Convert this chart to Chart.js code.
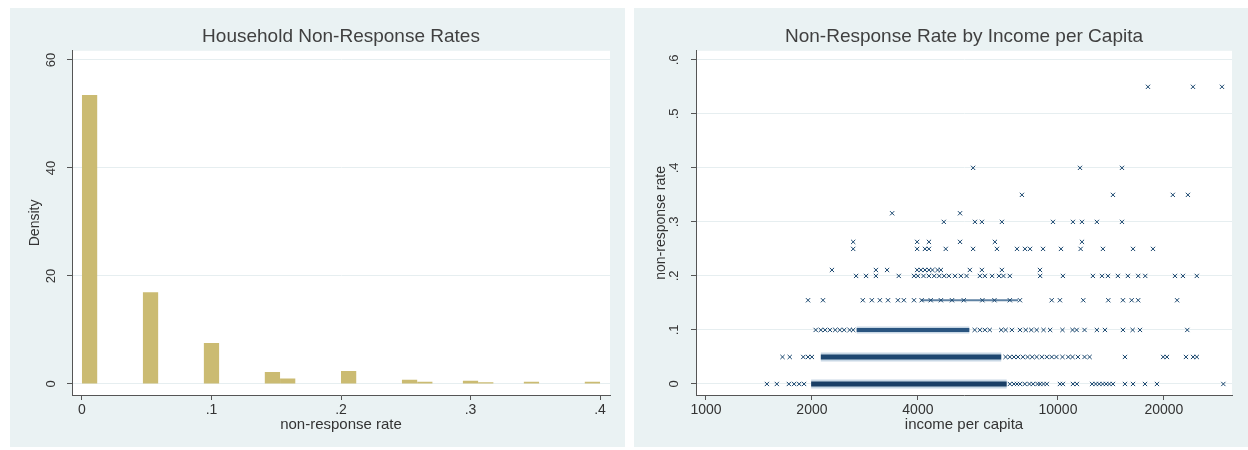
<!DOCTYPE html>
<html>
<head>
<meta charset="utf-8">
<script src="https://cdn.jsdelivr.net/npm/chart.js@4.4.1/dist/chart.umd.min.js"></script>
<style>
    html, body { margin: 0; padding: 0; background: #fff; }
    body { width: 1248px; height: 450px; position: relative; overflow: hidden; }
    .panel { position: absolute; top: 8px; height: 439px; background: #eaf2f3; }
    #left { left: 10px; width: 615px; }
    #right { left: 634px; width: 614px; }
</style>
</head>
<body>
<div class="panel" id="left"><canvas id="histChart" width="615" height="439"></canvas></div>
<div class="panel" id="right"><canvas id="scatterChart" width="614" height="439"></canvas></div>
<script>
// ===== Histogram data =====
const binWidth = 0.4 / 34;
const histDensity = [53.5, 0, 0, 0, 17.0, 0, 0, 0, 7.6, 0, 0, 0, 2.2, 1.0, 0, 0, 0, 2.4,
    0, 0, 0, 0.8, 0.4, 0, 0, 0.6, 0.3, 0, 0, 0.4, 0, 0, 0, 0.4];
const histXTicks = [0, 0.1, 0.2, 0.3, 0.4];
const histYTicks = [0, 20, 40, 60];

// ===== Scatter data (income per capita at each non-response rate) =====
const rateLevels = [0, 0.05, 0.1, 0.155, 0.2, 0.211, 0.25, 0.263, 0.3, 0.316, 0.35, 0.4, 0.55];
const inc000 = [1490, 1590, 1720, 1780, 1840, 1900, 7300, 7500, 7650, 7800, 8050, 8300, 8500, 8750,
    8900, 9100, 9300, 10130, 10330, 11030, 11320, 12500, 12800, 13100, 13400, 13700, 14000, 14330,
    15500, 16340, 17670, 19110, 29500];
const inc005 = [1650, 1730, 1890, 1950, 2000, 7100, 7300, 7500, 7700, 7950, 8200, 8450, 8700, 9000,
    9300, 9600, 9900, 10300, 10700, 11000, 11400, 11900, 12300, 15500, 19900, 20400, 23100, 24200, 24800];
const inc010 = [2050, 2120, 2180, 2250, 2330, 2400, 2470, 2560, 2620, 5800, 6000, 6200, 6400, 6900,
    7100, 7400, 7800, 8100, 8400, 8700, 9100, 9500, 10300, 11000, 11300, 11900, 12900, 13600, 15300,
    16300, 17100, 23300];
const inc015 = [1950, 2150, 2790, 2960, 3120, 3290, 3510, 3650, 3900, 4100, 4350, 4650, 5000, 5400,
    6100, 6600, 7300, 7800, 9600, 10130, 11800, 13900, 15300, 16200, 16900, 21800];
const inc020 = [2670, 2850, 3040, 3530, 3900, 4000, 4150, 4300, 4450, 4600, 4750, 4900, 5100, 5300,
    5500, 6000, 6200, 6500, 6800, 7000, 7300, 8900, 10330, 12570, 13340, 13870, 14800, 15800, 16900,
    17700, 21500, 22650, 24800];
const inc021 = [2280, 3040, 3270, 3980, 4080, 4190, 4300, 4400, 4550, 4650, 5620, 6080, 6930, 8890];
const inc025 = [2620, 3980, 4190, 4300, 4800, 5740, 6710, 7650, 8060, 8330, 9070, 10200, 11600,
    13420, 16340, 18620];
const inc026 = [2620, 3980, 4300, 5270, 6620, 11700];
const inc030 = [4740, 5810, 6080, 6930, 9680, 11030, 11700, 12900, 15200];
const inc032 = [3380, 5270];
const inc035 = [7900, 14330, 21200, 23400];
const inc040 = [5740, 11550, 15200];
const inc055 = [18020, 24190, 29240];
const incomeRows = [inc000, inc005, inc010, inc015, inc020, inc021, inc025, inc026,
    inc030, inc032, inc035, inc040, inc055];

// dense runs of overlapping markers
const denseRate = [0, 0.05, 0.1, 0.155];
const denseFrom = [1990, 2120, 2680, 4080];
const denseTo = [7150, 6900, 5600, 7700];
const scatterXTicks = [1000, 2000, 4000, 10000, 20000];
const scatterYTicks = [0, 0.1, 0.2, 0.3, 0.4, 0.5, 0.6];

// ===== Styles =====
const FONT = "'Liberation Sans', Arial, sans-serif";
const NAVY = '#1a476f';
const bandWidths = [5, 5, 4, 2];
const bandColors = ['#1a3f66', '#1d4670', '#2a5580', '#5f82a3'];
const haloWidths = [9, 9, 7, 0];
Chart.defaults.font.family = FONT;
Chart.defaults.color = '#333';

const plotBg = {
    id: 'plotBg',
    beforeDraw(chart) {
        const { ctx, chartArea: a } = chart;
        ctx.save();
        ctx.fillStyle = '#fff';
        ctx.fillRect(a.left, a.top, a.width, a.height);
        ctx.restore();
    }
};

function stataNum(v) {
    return v === 0 ? '0' : String(+v.toFixed(2)).replace(/^0\./, '.');
}

function titleOpts(text) {
    return {
        display: true, text, fullSize: false, color: '#404040',
        font: { size: 19, weight: 'normal' }, padding: { top: 17, bottom: 3 }
    };
}

function yAxis(min, max, ticks, label, titlePad, labelPad) {
    return {
        type: 'linear', min, max,
        afterBuildTicks: s => { s.ticks = ticks.map(v => ({ value: v })); },
        afterFit: s => { s.width = 62; },
        border: { display: true, color: '#555', width: 1 },
        grid: { color: '#e6eef0', lineWidth: 1, tickColor: '#555', tickLength: 5 },
        ticks: {
            minRotation: 90, maxRotation: 90, crossAlign: 'center', padding: labelPad,
            font: { size: 13 }, color: '#333', callback: v => stataNum(v)
        },
        title: { display: true, text: label, font: { size: 14 }, color: '#333', padding: { top: titlePad } }
    };
}

function xAxisBase(label) {
    return {
        afterFit: s => { s.height = 52; },
        border: { display: true, color: '#555', width: 1 },
        grid: { drawOnChartArea: false, offset: false, tickColor: '#555', tickLength: 5 },
        title: { display: true, text: label, font: { size: 15 }, color: '#333', padding: { top: 0, bottom: 13 } }
    };
}

// ===== Histogram =====
const histData = histDensity.map((d, i) => ({ x: (i + 0.5) * binWidth, y: d }));

new Chart(document.getElementById('histChart'), {
    type: 'bar',
    data: {
        datasets: [{
            data: histData,
            backgroundColor: '#cbbb72',
            borderWidth: 0,
            inflateAmount: 0,
            barPercentage: 1,
            categoryPercentage: 1
        }]
    },
    options: {
        responsive: false,
        animation: false,
        layout: { padding: { left: 0, right: 15, top: 0, bottom: 0 } },
        plugins: { legend: { display: false }, tooltip: { enabled: false }, title: titleOpts('Household Non-Response Rates') },
        scales: {
            x: Object.assign(xAxisBase('non-response rate'), {
                type: 'linear', offset: false, min: -0.0077, max: 0.4077,
                afterBuildTicks: s => { s.ticks = histXTicks.map(v => ({ value: v })); },
                ticks: { font: { size: 14 }, color: '#333', padding: 2, maxRotation: 0, callback: v => stataNum(v) }
            }),
            y: yAxis(-2.04, 61.7, histYTicks, 'Density', 17, 8)
        }
    },
    plugins: [plotBg]
});

// ===== Scatter =====
const scatterData = [];
incomeRows.forEach((row, i) => row.forEach(v => scatterData.push({ x: v, y: rateLevels[i] })));

function bandSet(i, width, color) {
    return {
        type: 'line',
        data: [{ x: denseFrom[i], y: denseRate[i] }, { x: denseTo[i], y: denseRate[i] }],
        borderColor: color,
        borderWidth: width,
        borderCapStyle: 'butt',
        pointRadius: 0,
        showLine: true
    };
}
const haloSets = denseRate.map((r, i) => bandSet(i, haloWidths[i], '#c9d8e5')).filter((d, i) => haloWidths[i] > 0);
const bandSets = denseRate.map((r, i) => bandSet(i, bandWidths[i], bandColors[i]));

new Chart(document.getElementById('scatterChart'), {
    type: 'scatter',
    data: {
        datasets: [{
            data: scatterData,
            pointStyle: 'crossRot',
            pointRadius: 3,
            borderColor: NAVY,
            borderWidth: 1,
            backgroundColor: NAVY
        }, ...bandSets, ...haloSets]
    },
    options: {
        responsive: false,
        animation: false,
        layout: { padding: { left: 0, right: 16, top: 0, bottom: 0 } },
        plugins: { legend: { display: false }, tooltip: { enabled: false }, title: titleOpts('Non-Response Rate by Income per Capita') },
        scales: {
            x: Object.assign(xAxisBase('income per capita'), {
                type: 'logarithmic', min: 937, max: 31220,
                afterBuildTicks: s => { s.ticks = scatterXTicks.map(v => ({ value: v })); },
                ticks: { font: { size: 14 }, color: '#333', padding: 2, maxRotation: 0, autoSkip: false, callback: v => String(v) }
            }),
            y: yAxis(-0.0204, 0.6167, scatterYTicks, 'non-response rate', 19, 11)
        }
    },
    plugins: [plotBg]
});
</script>
</body>
</html>
